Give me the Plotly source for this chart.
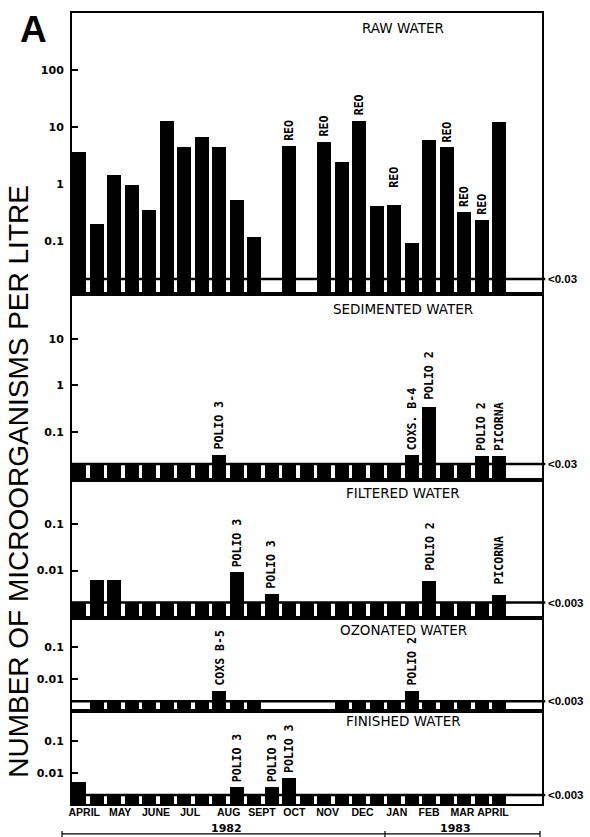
import math
import plotly.graph_objects as go

# ---------------- data ----------------
slots = list(range(1, 26))  # twice-monthly sampling, April 1982 - April 1983
month_labels = ["APRIL", "MAY", "JUNE", "JUL", "AUG", "SEPT", "OCT",
                "NOV", "DEC", "JAN", "FEB", "MAR", "APRIL"]
month_label_pos = [1.3, 3.35, 5.4, 7.35, 9.55, 11.45, 13.3, 15.2, 17.2,
                   19.15, 21.0, 22.9, 24.65]
year_labels = ["1982", "1983"]

# None = no sample ; 0 = below detection limit
raw_water = [3.7, 0.2, 1.45, 0.95, 0.36, 13.0, 4.5, 6.8, 4.5, 0.53, 0.12, None,
             4.6, None, 5.5, 2.4, 12.9, 0.41, 0.43, 0.093, 5.9, 4.4, 0.32, 0.24, 12.4]
sedimented_water = [0, 0, 0, 0, 0, 0, 0, 0, 0.032, 0, 0, 0, 0, 0, 0, 0, 0, 0, 0,
                    0.031, 0.33, 0, 0, 0.03, 0.03]
filtered_water = [0, 0.0063, 0.0063, 0, 0, 0, 0, 0, 0, 0.0092, 0, 0.0032, 0, 0, 0,
                  0, 0, 0, 0, 0, 0.0061, 0, 0, 0, 0.003]
ozonated_water = [None, 0, 0, 0, 0, 0, 0, 0, 0.0041, 0, 0, None, None, None, None,
                  0, 0, 0, 0, 0.0041, 0, 0, 0, 0, 0]
finished_water = [0.005, 0, 0, 0, 0, 0, 0, 0, 0, 0.0036, 0, 0.0036, 0.0068, 0, 0,
                  0, 0, 0, 0, 0, 0, 0, 0, 0, 0]

raw_label_slots = [13, 15, 17, 19, 22, 23, 24]
raw_label_text = ["REO", "REO", "REO", "REO", "REO", "REO", "REO"]
sed_label_slots = [9, 20, 21, 24, 25]
sed_label_text = ["POLIO 3", "COXS. B-4", "POLIO 2", "POLIO 2", "PICORNA"]
filt_label_slots = [10, 12, 21, 25]
filt_label_text = ["POLIO 3", "POLIO 3", "POLIO 2", "PICORNA"]
ozon_label_slots = [9, 20]
ozon_label_text = ["COXS B-5", "POLIO 2"]
fin_label_slots = [10, 12, 13]
fin_label_text = ["POLIO 3", "POLIO 3", "POLIO 3"]

panel_titles = ["RAW WATER", "SEDIMENTED WATER", "FILTERED WATER",
                "OZONATED WATER", "FINISHED WATER"]
detection_text = ["<0.03", "<0.03", "<0.003", "<0.003", "<0.003"]
# level at which the detection-limit line is drawn on each panel
detection_line = [0.022, 0.0206, 0.00206, 0.00193, 0.00205]

raw_ticks = [0.1, 1, 10, 100]
sed_ticks = [0.1, 1, 10]
low_ticks = [0.01, 0.1]
tick_text = {0.01: "0.01", 0.1: "0.1", 1: "1", 10: "10", 100: "100"}

# ---------------- layout of panels ----------------
W, H = 590, 837
ML, MR, MT, MB = 72, 48, 11, 33
PH = H - MT - MB
PW = W - ML - MR
BOT = H - MB


def pdom(top_px, bot_px):
    return [(BOT - bot_px) / PH, (BOT - top_px) / PH]


def px(xp):
    return (xp - ML) / PW


panels = [
    dict(values=raw_water, lab_s=raw_label_slots, lab_t=raw_label_text,
         rng=[-1.927, 2.995], dom=pdom(11, 293), ticks=raw_ticks, tpx=26),
    dict(values=sedimented_water, lab_s=sed_label_slots, lab_t=sed_label_text,
         rng=[-2.028, 1.955], dom=pdom(293, 479), ticks=sed_ticks, tpx=308),
    dict(values=filtered_water, lab_s=filt_label_slots, lab_t=filt_label_text,
         rng=[-3.028, -0.051], dom=pdom(479, 618), ticks=low_ticks, tpx=492),
    dict(values=ozonated_water, lab_s=ozon_label_slots, lab_t=ozon_label_text,
         rng=[-3.03, -0.079], dom=pdom(618, 711), ticks=low_ticks, tpx=630),
    dict(values=finished_water, lab_s=fin_label_slots, lab_t=fin_label_text,
         rng=[-2.97, -0.0625], dom=pdom(711, 804), ticks=low_ticks, tpx=721),
]
label_shift = {(0, 19): 15, (1, 21): 6, (2, 21): 8, (2, 25): 8}

XR = [0.6, 27.45]
BOLD_SANS = "DejaVu Sans"
LABEL_FONT = dict(family="DejaVu Sans Mono", size=11.5, color="black", weight="bold")

fig = go.Figure()
shapes = []
annotations = []
layout = {}

for i, p in enumerate(panels):
    n = "" if i == 0 else str(i + 1)
    xa, ya = "x" + n, "y" + n
    base = 10 ** p["rng"][0]
    dl = detection_line[i]
    shown = []
    for v in p["values"]:
        if v is None:
            shown.append(None)
        elif v == 0:
            shown.append(dl - base)
        else:
            shown.append(v - base)
    fig.add_trace(go.Bar(x=slots, y=shown, base=base, width=0.8,
                         marker=dict(color="black", line=dict(width=0)),
                         xaxis=xa, yaxis=ya, showlegend=False, hoverinfo="skip"))

    layout["xaxis" + n] = dict(
        domain=[0, 1], range=XR, anchor=ya, showline=True, mirror=True,
        linecolor="black", linewidth=2, showgrid=False, zeroline=False,
        ticks="", showticklabels=(i == 4),
        **({} if i == 0 else {"matches": "x"}))
    layout["yaxis" + n] = dict(
        domain=p["dom"], type="log", range=p["rng"], anchor=xa,
        showline=True, mirror=True, linecolor="black", linewidth=2,
        showgrid=False, zeroline=False, ticks="inside", ticklen=6,
        tickwidth=1.5, tickcolor="black",
        tickvals=p["ticks"], ticktext=[tick_text[t] for t in p["ticks"]],
        tickfont=dict(family=BOLD_SANS, size=11, color="black", weight="bold"),
        ticklabelstandoff=4)

    # detection limit line (shape coordinates on a log axis are data values)
    shapes.append(dict(type="line", xref="paper", x0=0, x1=1.007, yref=ya,
                       y0=dl, y1=dl,
                       line=dict(color="black", width=2.5), layer="above"))
    annotations.append(dict(xref="paper", x=px(546), xanchor="left", yref=ya,
                            y=math.log10(dl), yanchor="middle",
                            text=detection_text[i], showarrow=False,
                            font=dict(family="Liberation Sans", size=11.5,
                                      color="black", weight="bold")))
    # panel title
    annotations.append(dict(xref="paper", x=px(403),
                            yref="paper", y=(BOT - p["tpx"]) / PH,
                            xanchor="center", yanchor="middle",
                            text=panel_titles[i], showarrow=False,
                            font=dict(family="DejaVu Sans", size=13.5,
                                      color="black")))
    # virus labels above bars
    for s, t in zip(p["lab_s"], p["lab_t"]):
        v = p["values"][s - 1]
        annotations.append(dict(xref=xa, x=s, yref=ya, y=math.log10(v),
                                xanchor="center", yanchor="bottom",
                                yshift=label_shift.get((i, s), 3),
                                textangle=-90, text=t, showarrow=False,
                                font=LABEL_FONT))

layout["xaxis5"].update(tickvals=month_label_pos, ticktext=month_labels,
                        tickangle=0,
                        tickfont=dict(family="Liberation Sans", size=10.5,
                                      color="black", weight="bold"),
                        ticklabelstandoff=-3)

# y-axis title and panel letter
annotations.append(dict(xref="paper", x=px(19), yref="paper",
                        y=(BOT - 481) / PH, xanchor="center", yanchor="middle",
                        textangle=-90, text="NUMBER OF MICROORGANISMS PER LITRE",
                        showarrow=False,
                        font=dict(family="Liberation Sans", size=28, color="black")))
annotations.append(dict(xref="paper", x=px(33), yref="paper",
                        y=(BOT - 28) / PH, xanchor="center", yanchor="middle",
                        text="A", showarrow=False,
                        font=dict(family="Liberation Sans", size=37, color="black",
                                  weight="bold")))

# year bar below month labels
yb = (BOT - 834) / PH
tk = 3 / PH
shapes.append(dict(type="line", xref="paper", yref="paper", x0=px(62), x1=px(540),
                   y0=yb, y1=yb, line=dict(color="black", width=1.2)))
for xp in (62, 385, 540):
    shapes.append(dict(type="line", xref="paper", yref="paper", x0=px(xp), x1=px(xp),
                       y0=yb - tk, y1=yb + tk, line=dict(color="black", width=1.2)))
for lbl, xp in zip(year_labels, (226, 455)):
    annotations.append(dict(xref="paper", x=px(xp), yref="paper", y=(BOT - 829) / PH,
                            xanchor="center", yanchor="middle", text=lbl,
                            showarrow=False,
                            font=dict(family=BOLD_SANS, size=11, color="black",
                                      weight="bold")))

fig.update_layout(width=W, height=H, margin=dict(l=ML, r=MR, t=MT, b=MB),
                  paper_bgcolor="white", plot_bgcolor="white", bargap=0,
                  shapes=shapes, annotations=annotations, **layout)

fig.write_html("out.html")
